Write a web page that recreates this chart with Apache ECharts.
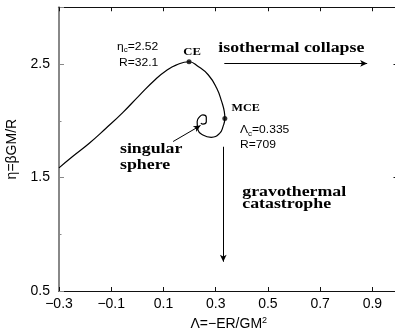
<!DOCTYPE html>
<html>
<head>
<meta charset="utf-8">
<script src="https://cdn.jsdelivr.net/npm/echarts@6/dist/echarts.min.js"></script>
<style>
  html, body { margin: 0; padding: 0; background: #fff; }
  #chart { width: 395px; height: 328px; }
</style>
</head>
<body>
<div id="chart"></div>
<script>
// Equilibrium sequence of bounded isothermal spheres:
// Λ = -ER/GM² (x) against η = βGM/R (y), spiralling into the singular sphere.
const lambdaValues = [
  -0.300, -0.248, -0.184, -0.120, -0.056, 0.007, 0.071, 0.110, 0.148, 0.198,
  0.233, 0.272, 0.304, 0.323, 0.333, 0.335,
  0.328, 0.315, 0.283, 0.251, 0.232, 0.229, 0.239, 0.251, 0.264, 0.264, 0.251, 0.243
];
const etaValues = [
  1.585, 1.685, 1.802, 1.934, 2.072, 2.222, 2.368, 2.440, 2.490, 2.520,
  2.478, 2.403, 2.286, 2.168, 2.080, 2.022,
  1.948, 1.889, 1.854, 1.874, 1.919, 1.992, 2.036, 2.051, 2.030, 1.992, 1.971, 1.978
];

// Critical points of the canonical and microcanonical ensembles
const criticalNames = ['CE', 'MCE'];
const criticalLambda = [0.198, 0.335];
const criticalEta = [2.52, 2.02];

// Tick labels that are printed on each axis
const xTickLabels = ['−0.3', '−0.1', '0.1', '0.3', '0.5', '0.7', '0.9'];
const yTickLabels = ['0.5', '1.5', '2.5'];

const SANS = '"Liberation Sans", Arial, Helvetica, sans-serif';
const SERIF = '"Liberation Serif", "Times New Roman", serif';

function fmt(v) {
  return (Math.round(v * 10) / 10).toFixed(1).replace('-', '−');
}

const curve = lambdaValues.map((x, i) => [x, etaValues[i]]);
const critical = criticalLambda.map((x, i) => ({ name: criticalNames[i], value: [x, criticalEta[i]] }));

const frameColor = '#111';
const leftColor = '#888';

const option = {
  animation: false,
  backgroundColor: '#fff',
  grid: { left: 59, right: -3.5, top: 7.25, bottom: 37, containLabel: false, outerBoundsMode: 'none' },
  xAxis: [
    {
      type: 'value', position: 'bottom', min: -0.3, max: 1.0, interval: 0.2,
      name: '{n|Λ=−ER/GM}{sup|2}', nameLocation: 'middle', nameGap: 21,
      nameTextStyle: {
        rich: {
          n: { fontFamily: SANS, fontSize: 14, color: '#000', lineHeight: 16 },
          sup: { fontFamily: SANS, fontSize: 9, color: '#000', verticalAlign: 'top', lineHeight: 9 }
        }
      },
      axisLine: { show: true, onZero: false, lineStyle: { color: frameColor, width: 1 } },
      axisTick: { show: true, inside: true, length: 4, lineStyle: { color: frameColor, width: 1 } },
      axisLabel: {
        show: true, margin: 6, color: '#000', fontFamily: SANS, fontSize: 14,
        showMaxLabel: false,
        formatter: v => (xTickLabels.includes(fmt(v)) ? fmt(v) : '')
      },
      splitLine: { show: false }
    },
    {
      type: 'value', position: 'top', min: -0.3, max: 1.0, interval: 0.2,
      axisLine: { show: true, onZero: false, lineStyle: { color: frameColor, width: 1 } },
      axisTick: { show: true, inside: true, length: 4, lineStyle: { color: frameColor, width: 1 } },
      axisLabel: { show: false },
      splitLine: { show: false }
    }
  ],
  yAxis: [
    {
      type: 'value', position: 'left', min: 0.5, max: 3.0, interval: 0.5,
      name: 'η=βGM/R', nameLocation: 'middle', nameGap: 40, nameRotate: 90,
      nameTextStyle: { fontFamily: SANS, fontSize: 14, color: '#000' },
      axisLine: { show: true, onZero: false, lineStyle: { color: leftColor, width: 2 } },
      axisTick: { show: true, inside: true, length: 2.5, lineStyle: { color: leftColor, width: 1 } },
      axisLabel: {
        show: true, margin: 9, color: '#000', fontFamily: SANS, fontSize: 14,
        formatter: v => (yTickLabels.includes(fmt(v)) ? fmt(v) : '')
      },
      splitLine: { show: false }
    },
    {
      // longer ticks at the labelled values
      type: 'value', position: 'left', min: 0.5, max: 3.0, interval: 1,
      axisLine: { show: false, onZero: false },
      axisTick: { show: true, inside: true, length: 5, lineStyle: { color: leftColor, width: 1 } },
      axisLabel: { show: false },
      splitLine: { show: false }
    },
    {
      type: 'value', position: 'right', min: 0.5, max: 3.0, interval: 1,
      axisLine: { show: true, onZero: false, lineStyle: { color: frameColor, width: 1 } },
      axisTick: { show: true, inside: true, length: 5, lineStyle: { color: frameColor, width: 1 } },
      axisLabel: { show: false },
      splitLine: { show: false }
    }
  ],
  series: [
    {
      name: 'isothermal spheres',
      type: 'line',
      xAxisIndex: 0, yAxisIndex: 0,
      data: curve,
      smooth: 0.5,
      showSymbol: false,
      symbol: 'none',
      lineStyle: { color: '#000', width: 1.2 },
      silent: true
    },
    {
      name: 'critical points',
      type: 'scatter',
      xAxisIndex: 0, yAxisIndex: 0,
      data: critical,
      symbol: 'circle',
      symbolSize: 5,
      itemStyle: { color: '#000' },
      silent: true,
      markLine: {
        silent: true,
        symbol: ['none', 'arrow'],
        symbolSize: [5, 7],
        label: { show: false },
        lineStyle: { color: '#000', width: 1, type: 'solid' },
        data: [
          [{ coord: [0.333, 2.505] }, { coord: [0.880, 2.505] }],
          [{ coord: [0.329, 1.771] }, { coord: [0.329, 0.758] }],
          [{ coord: [0.137, 1.817] }, { coord: [0.242, 1.958] }]
        ]
      }
    }
  ]
};

const chart = echarts.init(document.getElementById('chart'), null, { renderer: 'canvas' });
chart.setOption(option);

// Text annotations, anchored in data coordinates
const toPx = (x, y) => chart.convertToPixel({ xAxisIndex: 0, yAxisIndex: 0 }, [x, y]);
const STRETCH = 1.15;

function note(x, y, text, style) {
  const p = toPx(x, y);
  return {
    type: 'text', x: p[0], y: p[1], scaleX: STRETCH, silent: true,
    style: Object.assign({ text: text, fill: '#000', align: 'left', verticalAlign: 'middle' }, style)
  };
}

const small = { fontFamily: SANS, fontSize: 10.5 };
const subRich = {
  n: { fontFamily: SANS, fontSize: 10.5, lineHeight: 14 },
  s: { fontFamily: SANS, fontSize: 7, lineHeight: 7, verticalAlign: 'bottom' }
};
const boldSerif = (size) => ({ fontFamily: SERIF, fontWeight: 'bold', fontSize: size });

chart.setOption({
  graphic: [
    note(-0.078, 2.652, '{n|η}{s|c}{n|=2.52}', { rich: subRich }),
    note(-0.070, 2.509, 'R=32.1', small),
    note(0.176, 2.606, 'CE', boldSerif(11)),
    note(0.310, 2.645, 'isothermal collapse', boldSerif(15.5)),
    note(0.361, 2.106, 'MCE', boldSerif(10.5)),
    note(0.393, 1.914, '{n|Λ}{s|c}{n|=0.335}', { rich: subRich }),
    note(0.393, 1.789, 'R=709', small),
    note(-0.0665, 1.751, 'singular', boldSerif(15.5)),
    note(-0.0665, 1.610, 'sphere', boldSerif(15.5)),
    note(0.4017, 1.374, 'gravothermal', boldSerif(15.5)),
    note(0.4017, 1.263, 'catastrophe', boldSerif(15.5))
  ]
});
</script>
</body>
</html>
